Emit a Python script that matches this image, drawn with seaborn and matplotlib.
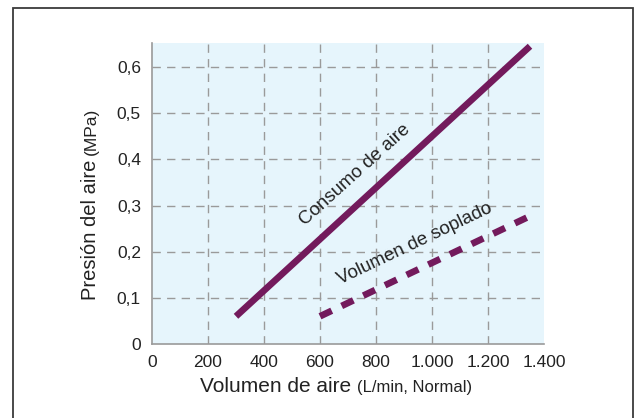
import pandas as pd
import matplotlib
matplotlib.use("Agg")
import matplotlib.pyplot as plt
import seaborn as sns
from matplotlib.patches import Rectangle

# values
consumo_x = [300, 1350]
consumo_y = [0.06, 0.645]
soplado_x = [600, 1360]
soplado_y = [0.06, 0.28]

x_ticks = [0, 200, 400, 600, 800, 1000, 1200, 1400]
x_labels = ["0", "200", "400", "600", "800", "1.000", "1.200", "1.400"]
y_ticks = [0, 0.1, 0.2, 0.3, 0.4, 0.5, 0.6]
y_labels = ["0", "0,1", "0,2", "0,3", "0,4", "0,5", "0,6"]

purple = "#731a5c"
ink = "#222222"
W, H = 637, 418

sns.set_style("white")
plt.rcParams["font.family"] = ["Liberation Sans", "DejaVu Sans"]

fig = plt.figure(figsize=(W / 100, H / 100), dpi=100)
ax = fig.add_axes([152 / W, 1 - 344 / H, (544 - 152) / W, (344 - 43) / H])
ax.set_facecolor("#e6f5fc")

consumo = pd.DataFrame({"x": consumo_x, "y": consumo_y})
soplado = pd.DataFrame({"x": soplado_x, "y": soplado_y})

sns.lineplot(data=consumo, x="x", y="y", ax=ax, color=purple, lw=4.8,
             solid_capstyle="butt", zorder=3)
sns.lineplot(data=soplado, x="x", y="y", ax=ax, color=purple, lw=4.8,
             dashes=False, zorder=3)
ax.lines[-1].set_dashes([1.95, 1.65])
ax.lines[-1].set_dash_capstyle("butt")

ax.set_xlim(0, 1400)
ax.set_ylim(0, 0.652)
ax.set_xticks(x_ticks, x_labels)
ax.set_yticks(y_ticks, y_labels)
ax.tick_params(length=0, labelsize=12.5, colors=ink, pad=8)
ax.set_xlabel("")
ax.set_ylabel("")

# dashed grey grid, no line on the top edge
for gx in x_ticks[1:-1]:
    ax.axvline(gx, color="#9a9a9a", lw=1, dashes=(6, 4.5), zorder=1)
for gy in y_ticks[1:]:
    ax.axhline(gy, color="#9a9a9a", lw=1, dashes=(6, 4.5), zorder=1)

sns.despine(ax=ax)
for s in ["left", "bottom"]:
    ax.spines[s].set_color("#9a9a9a")
    ax.spines[s].set_linewidth(1.2)

ax.text(725, 0.366, "Consumo de aire", rotation=42, ha="center", va="center",
        fontsize=13.5, color=ink)
ax.text(940, 0.218, "Volumen de soplado", rotation=25.5, ha="center",
        va="center", fontsize=13.5, color=ink)

# axis titles with smaller units
fig.canvas.draw()
r = fig.canvas.get_renderer()
t1 = fig.text(200 / W, 1 - 392 / H, "Volumen de aire", fontsize=15,
              color=ink, ha="left", va="baseline")
bb = t1.get_window_extent(r)
fig.text((bb.x1 + 6) / W, 1 - 392 / H, "(L/min, Normal)", fontsize=12,
         color=ink, ha="left", va="baseline")

t2 = fig.text(96 / W, 1 - 300 / H, "Presión del aire", fontsize=14.5,
              color=ink, ha="left", va="baseline", rotation=90,
              rotation_mode="anchor")
bb = t2.get_window_extent(r)
fig.text(96 / W, (bb.y1 + 5) / H, "(MPa)", fontsize=12.5,
         color=ink, ha="left", va="baseline", rotation=90,
         rotation_mode="anchor")

# outer frame
fig.patches.append(Rectangle((13 / W, -0.05), 620 / W, 1.05 - 8 / H,
                             transform=fig.transFigure, fill=False,
                             ec="#3a3a3a", lw=1.3))

fig.savefig("out.png", dpi=100)
